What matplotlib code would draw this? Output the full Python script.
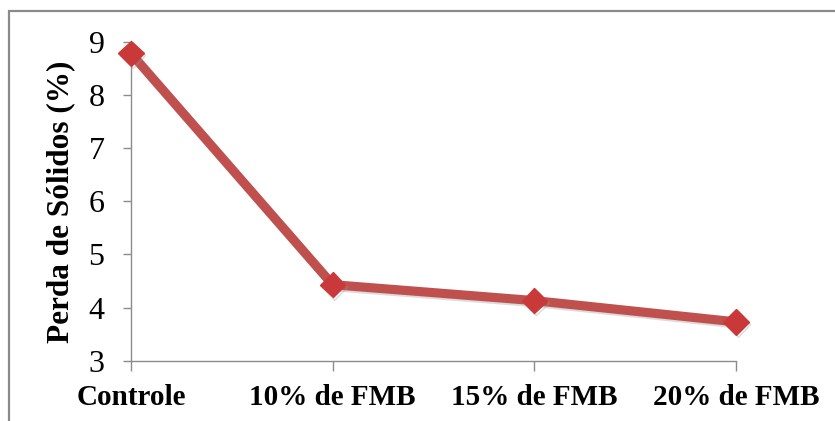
import matplotlib
matplotlib.use("Agg")
import matplotlib.pyplot as plt
from matplotlib.patches import Rectangle
import matplotlib.patheffects as pe

categories = ["Controle", "10% de FMB", "15% de FMB", "20% de FMB"]
perda_solidos = [8.78, 4.43, 4.13, 3.73]
y_ticks = [3, 4, 5, 6, 7, 8, 9]

W, H, DPI = 835, 421, 100
fig = plt.figure(figsize=(W / DPI, H / DPI), dpi=DPI)
fig.patch.set_facecolor("white")

# outer chart-area frame (runs off the right and bottom edges)
fig.patches.append(Rectangle((9 / W, -0.05), 1.2, 1 - 11 / H + 0.05,
                             transform=fig.transFigure, fill=False,
                             edgecolor="#8a8a8a", linewidth=1.6, zorder=0))

ax = fig.add_axes([131 / W, 1 - 360.7 / H, (736 - 131) / W, (360.7 - 41.7) / H])
ax.set_facecolor("none")

x = list(range(len(categories)))
ax.plot(x, perda_solidos, color="#C0504D", linewidth=6.6, marker="D",
        markersize=13, markerfacecolor="#C9393A", markeredgecolor="#C9393A",
        solid_capstyle="butt", zorder=3, clip_on=False,
        path_effects=[pe.SimpleLineShadow(offset=(1.2, -1.5), shadow_color="#999999", alpha=0.35),
                      pe.Normal()])

ax.set_xlim(0, 3)
ax.set_ylim(3, 9)
ax.set_xticks(x)
ax.set_xticklabels(categories, fontfamily="Liberation Serif", fontweight="bold", fontsize=21)
ax.set_yticks(y_ticks)
ax.set_yticklabels([str(v) for v in y_ticks], fontfamily="Liberation Serif", fontsize=23)

for s in ("top", "right"):
    ax.spines[s].set_visible(False)
for s in ("left", "bottom"):
    ax.spines[s].set_color("#8c8c8c")
    ax.spines[s].set_linewidth(1.0)

ax.tick_params(axis="y", direction="out", length=6, width=1.0, color="#8c8c8c", pad=13)
ax.tick_params(axis="x", direction="out", length=7, width=1.0, color="#8c8c8c", pad=10)

fig.text(61 / W, 1 - 202 / H, "Perda de Sólidos (%)", rotation=90,
         ha="center", va="center", fontfamily="Liberation Serif",
         fontweight="bold", fontsize=22.5)

fig.savefig("out.png", dpi=DPI, facecolor="white")
